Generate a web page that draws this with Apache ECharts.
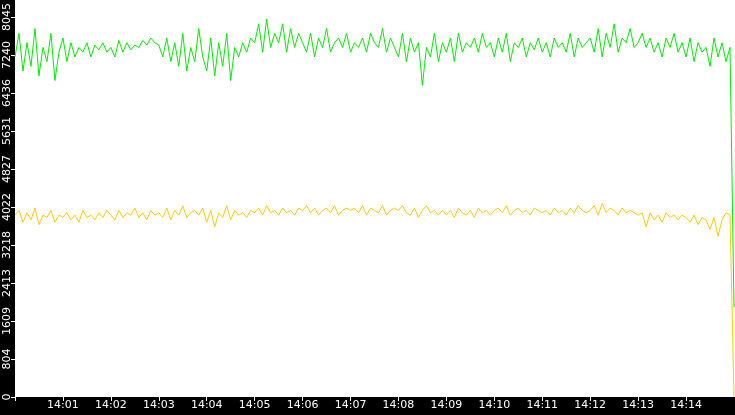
<!DOCTYPE html>
<html><head><meta charset="utf-8">
<script src="https://cdn.jsdelivr.net/npm/echarts@6/dist/echarts.min.js"></script>
<style>html,body{margin:0;padding:0;background:#fff}#c{width:735px;height:415px}</style>
</head><body><div id="c"></div>
<script>
const startTime = '2024-01-01T14:00:00';
const stepSeconds = 5;
const yTicks = [0,804,1609,2413,3218,4022,4827,5631,6436,7240,8045];
const greenValues = [
7200,7700,6900,7500,7000,7800,6800,7400,7100,7700,6700,7300,
7600,7100,7500,7200,7400,7300,7500,7200,7450,7350,7500,7300,
7400,7200,7550,7300,7500,7350,7450,7400,7550,7450,7600,7500,
7450,7200,7600,7100,7500,7000,7700,6900,7400,7100,7800,7200,
6900,7600,6800,7500,7000,7700,6700,7400,7200,7500,7300,7600,
7500,7900,7300,8000,7400,7700,7500,7900,7300,7800,7400,7700,
7500,7300,7700,7200,7600,7400,7800,7300,7500,7600,7400,7700,
7300,7500,7400,7600,7300,7700,7500,7400,7800,7300,7600,7400,
7200,7700,7100,7600,7300,7500,6600,7400,7200,7700,7100,7500,
7300,7600,7100,7700,7300,7500,7400,7600,7300,7700,7400,7500,
7200,7600,7300,7700,7100,7500,7400,7600,7200,7500,7350,7600,
7300,7500,7200,7600,7400,7500,7300,7700,7200,7600,7400,7500,
7600,7300,7800,7200,7700,7400,7900,7300,7600,7500,7800,7400,
7500,7700,7400,7600,7300,7500,7200,7600,7400,7700,7300,7500,
7200,7600,7100,7500,7300,7400,7000,7600,7200,7500,7100,7400,
1900];
const yellowValues = [
3850,3950,3700,3900,3750,4000,3650,3850,3800,3950,3700,3850,
3800,3900,3750,3850,3700,3950,3800,3850,3750,3900,3800,3950,
3850,3750,3950,3800,3900,3850,4000,3800,3900,3750,3950,3850,
3900,3800,4000,3750,3950,3850,4050,3800,3900,3950,3850,4000,
3700,3950,3600,3900,3800,4050,3750,3950,3850,3900,3800,3950,
3900,4000,3850,4050,3900,3950,3850,4000,3900,3950,3850,4000,
3950,4050,3900,4000,3850,3950,4000,3900,4050,3850,3950,4000,
3950,4000,3900,4050,3850,4000,3950,3900,4050,3850,3950,4000,
3950,4050,3900,3850,4000,3800,3950,4050,3900,3950,3850,3950,
3850,3950,3800,4000,3900,3850,3950,3800,4000,3900,3950,3850,
3950,4000,3900,4050,3850,3950,4000,3900,3950,3850,4000,3950,
3900,3950,3850,4000,3900,3950,3850,4000,3900,4050,3950,3900,
3950,4050,3850,4100,3900,4000,3950,3850,4000,3900,3950,3900,
3850,3900,3600,3900,3750,3850,3700,3900,3800,3850,3750,3850,
3800,3700,3850,3650,3800,3750,3550,3800,3400,3750,3900,3850,
0];

const t0 = new Date(startTime).getTime();
const toPairs = arr => arr.map((v,i)=>[t0 + i*stepSeconds*1000, v]);
const chart = echarts.init(document.getElementById('c'));
const lab = {color:'#fff', fontFamily:'DejaVu Sans', fontSize:11};
chart.setOption({
  animation:false,
  backgroundColor:'#fff',
  graphic:[
    {type:'rect', left:0, top:0, shape:{width:15, height:415}, style:{fill:'#000'}, z:-10},
    {type:'rect', left:0, top:397, shape:{width:735, height:18}, style:{fill:'#000'}, z:-10}
  ],
  grid:{left:15, right:1, top:0, bottom:18},
  xAxis:{type:'time', min:t0, max:t0+15*60000, minInterval:60000, maxInterval:60000, splitNumber:15,
    axisLine:{show:false}, splitLine:{show:false},
    axisTick:{show:true, length:4, lineStyle:{color:'#fff'}},
    axisLabel:Object.assign({}, lab, {margin:3, hideOverlap:false,
      formatter: v => { if (v <= t0) return ''; const d=new Date(v); return String(d.getHours()).padStart(2,'0')+':'+String(d.getMinutes()).padStart(2,'0'); }})
  },
  yAxis:{type:'value', min:0, max:8045, interval:804.5,
    axisLine:{show:false}, splitLine:{show:false},
    axisTick:{show:true, length:4, lineStyle:{color:'#fff'}},
    axisLabel:Object.assign({}, lab, {rotate:90, margin:2,
      formatter: (v,i) => String(yTicks[i] !== undefined ? yTicks[i] : Math.round(v))})
  },
  series:[
    {type:'line', data:toPairs(greenValues), showSymbol:false, lineStyle:{color:'#00ee00', width:1}, itemStyle:{color:'#00ee00'}},
    {type:'line', data:toPairs(yellowValues), showSymbol:false, lineStyle:{color:'#ffcc00', width:1}, itemStyle:{color:'#ffcc00'}}
  ]
});
</script></body></html>
